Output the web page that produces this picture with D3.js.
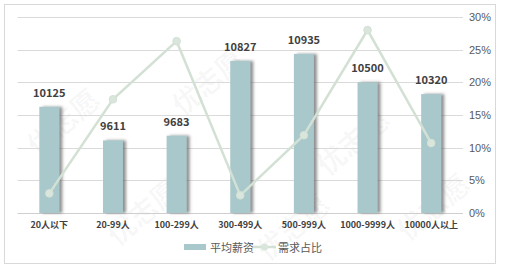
<!DOCTYPE html>
<html>
<head>
<meta charset="utf-8">
<script src="https://cdnjs.cloudflare.com/ajax/libs/d3/7.8.5/d3.min.js"></script>
<style>
  html, body { margin: 0; padding: 0; background: #fff; }
  svg { display: block; font-family: "Noto Sans CJK SC", "Noto Sans", sans-serif; }
</style>
</head>
<body>
<div id="chart"></div>
<script>
(function() {
    'use strict';

    // data
    var categories = ["20人以下", "20-99人", "100-299人", "300-499人", "500-999人", "1000-9999人", "10000人以上"];
    var salary = [10125, 9611, 9683, 10827, 10935, 10500, 10320];
    var demandShare = [3.0, 17.4, 26.3, 2.7, 11.9, 28.0, 10.7];
    var percentTicks = [0, 5, 10, 15, 20, 25, 30];
    var legendNames = ["平均薪资", "需求占比"];

    var width = 505, height = 268;
    var barColor = "#a8c8cb", lineColor = "#d3e1d5";

    var svg = d3.select("#chart").append("svg")
        .attr("width", width).attr("height", height);

    var defs = svg.append("defs");
    var shadow = defs.append("filter").attr("id", "barShadow")
        .attr("x", "-20%").attr("y", "-5%").attr("width", "160%").attr("height", "110%");
    shadow.append("feDropShadow")
        .attr("dx", 3).attr("dy", 0).attr("stdDeviation", 1.6)
        .attr("flood-color", "#555").attr("flood-opacity", 0.65);

    // frame
    svg.append("rect")
        .attr("x", 4.5).attr("y", 4.5).attr("width", 491).attr("height", 259)
        .attr("fill", "#fff").attr("stroke", "#d9d9d9");

    var plot = {left: 17.5, right: 463, top: 17, bottom: 213};

    var x = d3.scaleBand().domain(categories).range([plot.left, plot.right]).padding(0);
    var yBar = d3.scaleLinear().domain([8500, 11500]).range([plot.bottom, plot.top]);
    var yPct = d3.scaleLinear().domain([0, 30]).range([plot.bottom, plot.top]);

    // watermark (behind everything, faint)
    var wm = [[70, 130], [215, 90], [360, 150], [150, 220], [300, 235], [440, 215]];
    svg.append("g").attr("pointer-events", "none").selectAll("text").data(wm).enter().append("text")
        .attr("transform", function(d) { return "translate(" + d[0] + "," + d[1] + ") rotate(-40)"; })
        .attr("text-anchor", "middle")
        .attr("font-size", 28).attr("font-weight", "bold")
        .attr("fill", "#000").attr("fill-opacity", 0.04)
        .text("优志愿");

    // gridlines
    svg.append("g").selectAll("line").data(percentTicks).enter().append("line")
        .attr("x1", plot.left).attr("x2", plot.right)
        .attr("y1", function(d) { return Math.round(yPct(d)) + 0.5; })
        .attr("y2", function(d) { return Math.round(yPct(d)) + 0.5; })
        .attr("stroke", function(d) { return d === 0 ? "#cfcfcf" : "#dadada"; });

    // right axis
    var rAxis = svg.append("g")
        .attr("transform", "translate(" + plot.right + ",0)")
        .call(d3.axisRight(yPct).tickValues(percentTicks)
            .tickFormat(function(d) { return d + "%"; }).tickSize(0).tickPadding(6));
    rAxis.select(".domain").remove();
    rAxis.selectAll("text").attr("fill", "#595959").attr("font-size", 11)
        .attr("font-family", "'Liberation Sans', 'Noto Sans', sans-serif");

    // bars
    var barW = 20;
    svg.append("g").selectAll("rect").data(salary).enter().append("rect")
        .attr("x", function(d, i) { return x(categories[i]) + x.bandwidth() / 2 - barW / 2; })
        .attr("y", function(d) { return yBar(d); })
        .attr("width", barW)
        .attr("height", function(d) { return plot.bottom - yBar(d); })
        .attr("fill", barColor)
        .attr("filter", "url(#barShadow)");

    // bar labels
    svg.append("g").selectAll("text").data(salary).enter().append("text")
        .attr("x", function(d, i) { return x(categories[i]) + x.bandwidth() / 2; })
        .attr("y", function(d) { return yBar(d) - 10; })
        .attr("text-anchor", "middle")
        .attr("font-size", 11).attr("font-weight", "bold").attr("fill", "#404040")
        .text(function(d) { return d; });

    // x labels
    svg.append("g").selectAll("text").data(categories).enter().append("text")
        .attr("x", function(d) { return x(d) + x.bandwidth() / 2; })
        .attr("y", 228)
        .attr("text-anchor", "middle")
        .attr("font-size", 9).attr("font-weight", "bold").attr("fill", "#404040")
        .text(function(d) { return d; });

    // line
    var line = d3.line()
        .x(function(d, i) { return x(categories[i]) + x.bandwidth() / 2; })
        .y(function(d) { return yPct(d); });
    svg.append("path").datum(demandShare)
        .attr("d", line).attr("fill", "none")
        .attr("stroke", lineColor).attr("stroke-width", 2.5);
    svg.append("g").selectAll("circle").data(demandShare).enter().append("circle")
        .attr("cx", function(d, i) { return x(categories[i]) + x.bandwidth() / 2; })
        .attr("cy", function(d) { return yPct(d); })
        .attr("r", 3.8)
        .attr("fill", "#dae6dc").attr("stroke", lineColor).attr("stroke-width", 1);

    // legend
    var lg = svg.append("g").attr("font-size", 11).attr("fill", "#595959");
    lg.append("rect").attr("x", 184).attr("y", 244).attr("width", 22).attr("height", 6).attr("fill", barColor);
    lg.append("text").attr("x", 210).attr("y", 251.5).text(legendNames[0]);
    lg.append("line").attr("x1", 253).attr("x2", 276).attr("y1", 247).attr("y2", 247)
        .attr("stroke", lineColor).attr("stroke-width", 2.5);
    lg.append("circle").attr("cx", 264.5).attr("cy", 247).attr("r", 3.5).attr("fill", "#dae6dc");
    lg.append("text").attr("x", 278).attr("y", 251.5).text(legendNames[1]);
})();
</script>
</body>
</html>
